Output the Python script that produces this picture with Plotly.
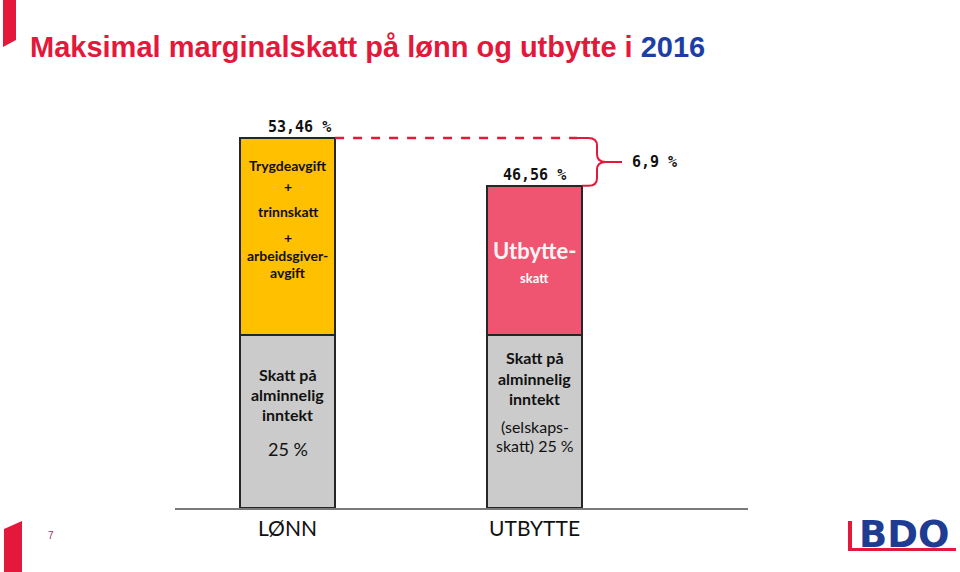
import plotly.graph_objects as go

W, H = 960, 572
# plot area in pixels
PL, PR, PT, PB = 175, 748, 100, 508

categories = ["LØNN", "UTBYTTE"]
base_tax = [25.0, 25.0]          # skatt på alminnelig inntekt
top_tax = [28.46, 21.56]         # trygdeavgift/trinnskatt/AGA  |  utbytteskatt
totals = [53.46, 46.56]
total_labels = ["53,46 %", "46,56 %"]
diff_label = "6,9 %"

RED = "#E3183A"
BLUE = "#1C3EA6"
YELLOW = "#FFC000"
PINK = "#EF5470"
GREY = "#CBCBCB"
OUTLINE = "#262626"
BAR_FONT = "Lato, 'Open Sans', sans-serif"
MONO = "'DejaVu Sans Mono', monospace"

Y_MAX = totals[0] * (PB - PT) / (PB - 138)
X_MIN, X_MAX = -0.4555, 1.864
BAR_W = 0.385


def px(x):
    return (x - PL) / (PR - PL)


def py(y):
    return (PB - y) / (PB - PT)


def xd(x):
    return X_MIN + (x - PL) / (PR - PL) * (X_MAX - X_MIN)


fig = go.Figure()
xs = list(range(len(categories)))
fig.add_trace(go.Bar(
    x=xs, y=base_tax, width=BAR_W,
    marker=dict(color=GREY, line=dict(color=OUTLINE, width=1.5)),
    hoverinfo="skip",
))
fig.add_trace(go.Bar(
    x=xs, y=top_tax, width=BAR_W,
    marker=dict(color=[YELLOW, PINK], line=dict(color=OUTLINE, width=1.5)),
    hoverinfo="skip",
))

ann = []


def label(text, x, y_px, size, bold=True, color="#111", family=BAR_FONT):
    ann.append(dict(
        text=f"<b>{text}</b>" if bold else text,
        x=x, xref="x", y=py(y_px), yref="paper",
        showarrow=False, xanchor="center", yanchor="middle",
        font=dict(family=family, size=size, color=color),
    ))


# LØNN bar texts
for t, y in [("Trygdeavgift", 165), ("+", 186), ("trinnskatt", 211),
             ("+", 237), ("arbeidsgiver-", 255), ("avgift", 272)]:
    label(t, 0, y, 14)
for t, y in [("Skatt på", 374), ("alminnelig", 394), ("inntekt", 414)]:
    label(t, 0, y, 16)
label("25 %", 0, 449, 18, bold=False)

# UTBYTTE bar texts
label("Utbytte-", 1, 250, 22, color="#FFF4F4")
label("skatt", 1, 278, 13, color="#FFFFFF")
for t, y in [("Skatt på", 357), ("alminnelig", 378), ("inntekt", 398)]:
    label(t, 1, y, 16)
label("(selskaps-", 1, 426, 16, bold=False)
label("skatt) 25 %", 1, 445, 16, bold=False)

# totals above bars
ann.append(dict(text=f"<b>{total_labels[0]}</b>", x=0, xref="x", xshift=12,
                y=totals[0], yref="y", yanchor="bottom", showarrow=False,
                font=dict(family=MONO, size=15, color="#111")))
ann.append(dict(text=f"<b>{total_labels[1]}</b>", x=1, xref="x",
                y=totals[1], yref="y", yanchor="bottom", showarrow=False,
                font=dict(family=MONO, size=15, color="#111")))

# difference brace
ytop, ybot = totals[0], totals[1]
ymid = (ytop + ybot) / 2
xv, xt = xd(597), xd(622)
ry, rx = 1.1, 0.035
ann.append(dict(text=f"<b>{diff_label}</b>", x=xd(630), xref="x", xanchor="left",
                y=ymid, yref="y", showarrow=False,
                font=dict(family=MONO, size=15, color="#111")))

shapes = [
    dict(type="line", xref="x", yref="y", x0=BAR_W / 2, x1=xd(577), y0=ytop, y1=ytop,
         line=dict(color=RED, width=2.5, dash="dash")),
    dict(type="path", xref="x", yref="y",
         path=(f"M {xd(577)},{ytop} L {xv - rx},{ytop} Q {xv},{ytop} {xv},{ytop - ry} "
               f"L {xv},{ymid + ry} Q {xv},{ymid} {xv + rx},{ymid} L {xt},{ymid} "
               f"M {xv + rx},{ymid} Q {xv},{ymid} {xv},{ymid - ry} "
               f"L {xv},{ybot + ry} Q {xv},{ybot} {xv - rx},{ybot} L {1 + BAR_W / 2},{ybot}"),
         line=dict(color=RED, width=2)),
    # slide decorations
    dict(type="path", xref="paper", yref="paper", fillcolor=RED, line=dict(width=0),
         path=f"M {px(3)},{py(0)} L {px(16)},{py(0)} L {px(16)},{py(40)} L {px(3)},{py(47)} Z"),
    dict(type="path", xref="paper", yref="paper", fillcolor=RED, line=dict(width=0),
         path=f"M {px(4)},{py(529)} L {px(22)},{py(521)} L {px(22)},{py(572)} L {px(4)},{py(572)} Z"),
    # BDO logo bars
    dict(type="rect", xref="paper", yref="paper", fillcolor=RED, line=dict(width=0),
         x0=px(848), x1=px(852), y0=py(551), y1=py(521)),
    dict(type="rect", xref="paper", yref="paper", fillcolor=RED, line=dict(width=0),
         x0=px(848), x1=px(956), y0=py(551), y1=py(548)),
]

# title
ann.append(dict(
    text=(f"<b><span style='color:{RED}'>Maksimal marginalskatt på lønn og utbytte i </span>"
          f"<span style='color:{BLUE}'>2016</span></b>"),
    x=px(28), xref="paper", xanchor="left", y=py(47), yref="paper", yanchor="middle",
    showarrow=False, font=dict(family="'Liberation Sans', Arial, sans-serif", size=29),
))
# page number
ann.append(dict(text="7", x=px(46), xref="paper", y=py(535), yref="paper", yanchor="middle",
                showarrow=False, font=dict(family="'Liberation Sans', Arial", size=10, color="#A03058")))
# BDO logo text
ann.append(dict(text="<b>BDO</b>", x=px(857), xref="paper", xanchor="left",
                y=py(534), yref="paper", yanchor="middle", showarrow=False,
                font=dict(family="'DejaVu Sans', sans-serif", size=37, color="#1F3C93")))

fig.update_layout(
    width=W, height=H,
    margin=dict(l=PL, r=W - PR, t=PT, b=H - PB),
    paper_bgcolor="white", plot_bgcolor="white",
    barmode="stack", showlegend=False,
    annotations=ann, shapes=shapes,
)
fig.update_xaxes(range=[X_MIN, X_MAX], tickvals=xs, ticktext=categories,
                 showgrid=False, zeroline=False, showline=True, linecolor="#7a7a7a",
                 linewidth=2, ticks="", ticklabelstandoff=1,
                 tickfont=dict(family=BAR_FONT, size=21, color="#111"))
fig.update_yaxes(range=[0, Y_MAX], visible=False)

fig.write_html("out.html", config={"displayModeBar": False},
               post_script="document.body.style.margin = '0';")
